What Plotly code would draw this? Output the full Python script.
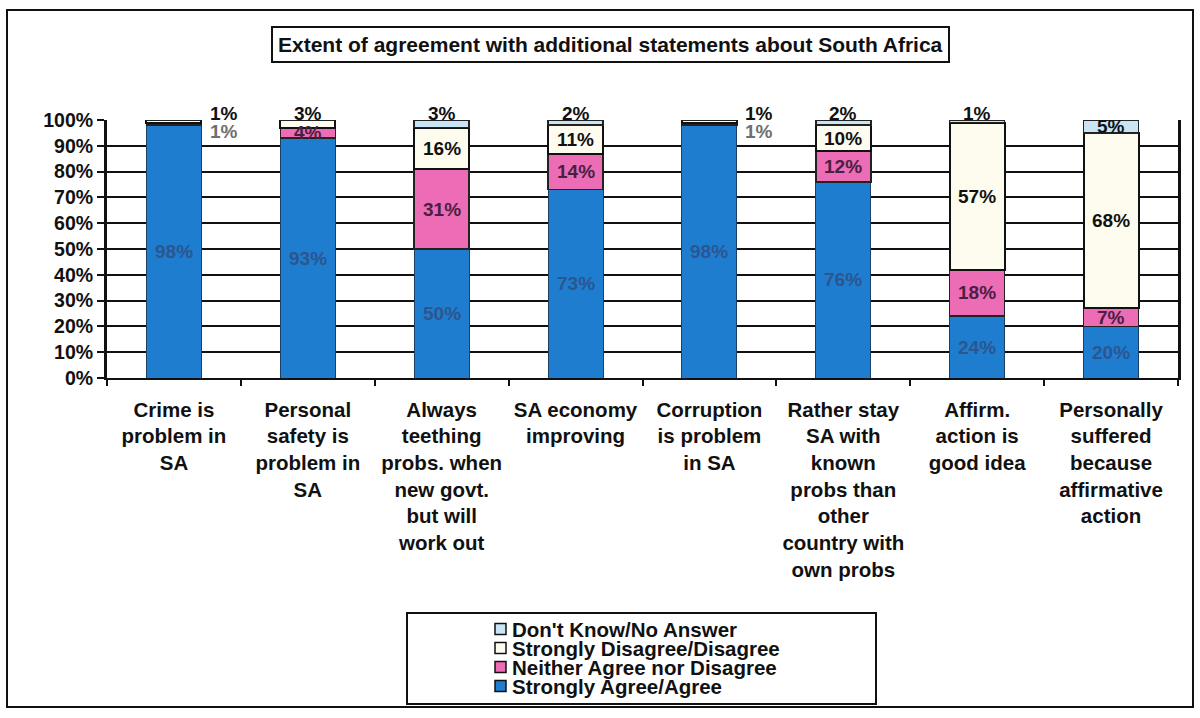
import plotly.graph_objects as go

# Survey statements (x categories)
categories = [
    "Crime is<br>problem in<br>SA",
    "Personal<br>safety is<br>problem in<br>SA",
    "Always<br>teething<br>probs. when<br>new govt.<br>but will<br>work out",
    "SA economy<br>improving",
    "Corruption<br>is problem<br>in SA",
    "Rather stay<br>SA with<br>known<br>probs than<br>other<br>country with<br>own probs",
    "Affirm.<br>action is<br>good idea",
    "Personally<br>suffered<br>because<br>affirmative<br>action",
]

# Response shares (%)
agree = [98, 93, 50, 73, 98, 76, 24, 20]
neither = [1, 4, 31, 14, 1, 12, 18, 7]
disagree = [1, 3, 16, 11, 1, 10, 57, 68]
dont_know = [0, 0, 3, 2, 0, 2, 1, 5]

series_names = [
    "Strongly Agree/Agree",
    "Neither Agree nor Disagree",
    "Strongly Disagree/Disagree",
    "Don't Know/No Answer",
]
y_ticks = [0, 10, 20, 30, 40, 50, 60, 70, 80, 90, 100]
y_tick_text = [f"{v}%" for v in y_ticks]

series = [agree, neither, disagree, dont_know]
fills = ["#1f7dd0", "#ec6cb6", "#fdfcef", "#c9e5f5"]
edges = ["#1c3f66", "#222222", "#111111", "#222222"]
edge_w = [1, 1.5, 2, 1.5]
label_colors = ["#2b568f", "#4a1f42", "#111111", "#111111"]

FONT = "Liberation Sans, Arial, sans-serif"

# Plot-area geometry in pixels (used to place frame / legend boxes)
W, H = 1200, 718
ML, MR, MT, MB = 107, 22, 120, 340
PW, PH = W - ML - MR, H - MT - MB


def px_x(px):
    return (px - ML) / PW


def px_y(py):
    return (H - MB - py) / PH


fig = go.Figure()
for vals, name, fc, ec, ew in zip(series, series_names, fills, edges, edge_w):
    fig.add_trace(go.Bar(
        x=categories, y=vals, name=name,
        marker=dict(color=fc, line=dict(color=ec, width=ew)),
        showlegend=False, hoverinfo="x+y",
    ))

# Segment value labels
annotations = []
for ci, cat in enumerate(categories):
    base = 0
    for si, vals in enumerate(series):
        v = vals[ci]
        if v <= 0:
            continue
        center = base + v / 2
        top = base + v
        y, xshift, yshift = center, 0, 0
        is_top = all(series[k][ci] == 0 for k in range(si + 1, len(series)))
        lone_small = dont_know[ci] == 0 and v < 2
        if v < 4 and is_top:
            y, yshift = 100, 7
        if lone_small:
            xshift = 50
            if not is_top:
                yshift = -8
        color = label_colors[si]
        if lone_small and si == 1:
            color = "#6f6f6f"
        annotations.append(dict(
            x=cat, y=y, xref="x", yref="y", text=f"{v}%", showarrow=False,
            xshift=xshift, yshift=yshift, xanchor="center", yanchor="middle",
            font=dict(family=FONT, size=19, color=color, weight="bold"),
        ))
        base = top

# Title in a box
annotations.append(dict(
    x=px_x(610), y=px_y(45), xref="paper", yref="paper",
    text="Extent of agreement with additional statements about South Africa",
    showarrow=False, xanchor="center", yanchor="middle",
    font=dict(family=FONT, size=21, color="#111111", weight="bold"),
    bordercolor="#111111", borderwidth=2, borderpad=5, bgcolor="white",
))

shapes = [
    # outer frame
    dict(type="rect", xref="paper", yref="paper",
         x0=px_x(7), x1=px_x(1193), y0=px_y(707), y1=px_y(10),
         line=dict(color="#111111", width=2), fillcolor="rgba(0,0,0,0)", layer="below"),
    # legend box
    dict(type="rect", xref="paper", yref="paper",
         x0=px_x(407), x1=px_x(876), y0=px_y(704), y1=px_y(613),
         line=dict(color="#111111", width=2), fillcolor="white"),
]

# Legend entries, listed top-down (last stacked series first)
legend_rows = list(zip(series_names, fills))[::-1]
for i, (name, fc) in enumerate(legend_rows):
    cy = 629 + i * 19
    shapes.append(dict(
        type="rect", xref="paper", yref="paper",
        x0=px_x(495), x1=px_x(506), y0=px_y(cy + 5.5), y1=px_y(cy - 5.5),
        line=dict(color="#111111", width=1.5), fillcolor=fc,
    ))
    annotations.append(dict(
        x=px_x(510), y=px_y(cy), xref="paper", yref="paper", text=name,
        showarrow=False, xanchor="left", yanchor="middle",
        font=dict(family=FONT, size=20.5, color="#111111", weight="bold"),
    ))

fig.update_layout(
    width=W, height=H,
    margin=dict(l=ML, r=MR, t=MT, b=MB),
    paper_bgcolor="white", plot_bgcolor="white",
    barmode="stack", bargap=0.59,
    font=dict(family=FONT, color="#111111"),
    annotations=annotations, shapes=shapes,
    showlegend=False,
    xaxis=dict(
        type="category", showline=True, linecolor="#111111", linewidth=2,
        ticks="outside", tickson="boundaries", ticklen=6, tickcolor="#111111",
        tickwidth=1.5, showgrid=False, ticklabelstandoff=12,
        tickfont=dict(family=FONT, size=20.5, color="#111111", weight="bold"),
    ),
    yaxis=dict(
        range=[0, 100], tickvals=y_ticks, ticktext=y_tick_text,
        showline=True, linecolor="#111111", linewidth=3, mirror=True,
        ticks="outside", ticklen=7, tickwidth=2, tickcolor="#111111",
        showgrid=True, gridcolor="#111111", gridwidth=2, zeroline=False,
        tickfont=dict(family=FONT, size=19.5, color="#111111", weight="bold"),
    ),
)

fig.write_html("out.html")
